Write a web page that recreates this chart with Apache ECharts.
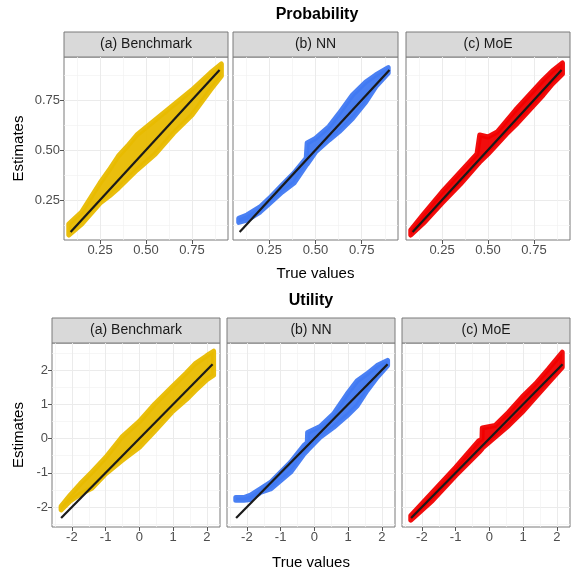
<!DOCTYPE html>
<html>
<head>
<meta charset="utf-8">
<script src="https://cdn.jsdelivr.net/npm/echarts@6/dist/echarts.min.js"></script>
<style>
html, body { margin: 0; padding: 0; background: #fff; }
#chart { width: 574px; height: 571px; }
</style>
</head>
<body>
<div id="chart"></div>
<script>
var myChart = echarts.init(document.getElementById('chart'));

// facet labels, row titles, colours
var panelNames = ['(a) Benchmark', '(b) NN', '(c) MoE'];
var rowTitles = ['Probability', 'Utility'];
var bandColors = ['#E8BB00', '#4079F2', '#F00000'];

// axis ticks
var probTicks = [0.25, 0.5, 0.75];
var probMinor = [0.125, 0.375, 0.625, 0.875];
var utilTicks = [-2, -1, 0, 1, 2];
var utilMinor = [-2.5, -1.5, -0.5, 0.5, 1.5, 2.5];
var probXRange = [0.054, 0.946];
var probYRange = [0.05, 0.965];
var utilXRange = [-2.59, 2.39];
var utilYRange = [-2.58, 2.79];

// 45 degree reference line (true value range)
var probLine = [0.09, 0.9];
var utilLine = [-2.32, 2.17];

// estimate bands: true value, lowest and highest estimate
var probBenchX  = [0.08, 0.15, 0.25, 0.30, 0.35, 0.40, 0.45, 0.55, 0.65, 0.75, 0.85, 0.91];
var probBenchLo = [0.075, 0.13, 0.235, 0.27, 0.31, 0.355, 0.40, 0.48, 0.585, 0.675, 0.80, 0.87];
var probBenchHi = [0.13, 0.19, 0.335, 0.40, 0.47, 0.52, 0.575, 0.65, 0.725, 0.80, 0.885, 0.93];

var probNNX  = [0.085, 0.13, 0.20, 0.25, 0.32, 0.384, 0.45, 0.455, 0.50, 0.573, 0.628, 0.70, 0.772, 0.826, 0.893];
var probNNLo = [0.138, 0.15, 0.19, 0.232, 0.29, 0.335, 0.425, 0.43, 0.49, 0.55, 0.592, 0.658, 0.74, 0.817, 0.885];
var probNNHi = [0.158, 0.175, 0.215, 0.258, 0.325, 0.385, 0.46, 0.535, 0.558, 0.617, 0.683, 0.775, 0.84, 0.875, 0.912];

var probMoEX  = [0.08, 0.15, 0.25, 0.35, 0.44, 0.455, 0.50, 0.55, 0.60, 0.65, 0.70, 0.75, 0.80, 0.85, 0.905];
var probMoELo = [0.075, 0.135, 0.235, 0.33, 0.425, 0.44, 0.48, 0.53, 0.58, 0.625, 0.675, 0.725, 0.775, 0.83, 0.88];
var probMoEHi = [0.10, 0.18, 0.29, 0.39, 0.48, 0.575, 0.565, 0.59, 0.645, 0.70, 0.75, 0.80, 0.85, 0.895, 0.935];

var utilBenchX  = [-2.32, -2.05, -1.75, -1.41, -1.0, -0.52, 0.0, 0.46, 0.96, 1.4, 1.65, 2.0, 2.2];
var utilBenchLo = [-2.08, -1.82, -1.62, -1.45, -1.03, -0.64, -0.25, 0.23, 0.77, 1.15, 1.40, 1.72, 1.85];
var utilBenchHi = [-1.98, -1.65, -1.32, -0.98, -0.55, 0.04, 0.50, 1.01, 1.50, 1.92, 2.18, 2.42, 2.55];

var utilNNX  = [-2.33, -2.09, -1.89, -1.6, -1.3, -0.705, -0.31, -0.21, -0.2, 0.17, 0.57, 0.97, 1.27, 1.56, 1.86, 2.17];
var utilNNLo = [-1.80, -1.80, -1.78, -1.57, -1.47, -0.98, -0.45, -0.35, -0.33, 0.04, 0.33, 0.67, 0.96, 1.40, 1.79, 2.13];
var utilNNHi = [-1.72, -1.72, -1.65, -1.47, -1.28, -0.69, -0.20, -0.12, 0.18, 0.35, 0.72, 1.30, 1.69, 1.89, 2.13, 2.28];

var utilMoEX  = [-2.33, -1.69, -1.0, -0.31, -0.22, -0.21, 0.17, 0.57, 0.97, 1.37, 1.76, 2.16];
var utilMoELo = [-2.38, -1.81, -1.08, -0.40, -0.30, -0.28, 0.04, 0.38, 0.77, 1.21, 1.64, 2.08];
var utilMoEHi = [-2.25, -1.57, -0.84, -0.06, -0.02, 0.31, 0.38, 0.77, 1.21, 1.60, 2.04, 2.52];

var bands = [
    [probBenchX, probBenchLo, probBenchHi],
    [probNNX, probNNLo, probNNHi],
    [probMoEX, probMoELo, probMoEHi],
    [utilBenchX, utilBenchLo, utilBenchHi],
    [utilNNX, utilNNLo, utilNNHi],
    [utilMoEX, utilMoELo, utilMoEHi]
];

// panel boxes in pixels
var rowLayout = [
    { top: 57, height: 183, lefts: [64, 233, 406], widths: [164, 165, 164] },
    { top: 343, height: 184, lefts: [52, 227, 402], widths: [168, 168, 168] }
];

var font = '"Liberation Sans", Arial, sans-serif';
var grids = [], xAxes = [], yAxes = [], series = [], graphics = [];

function bandRenderer(band, color) {
    return function (params, api) {
        if (params.dataIndex !== 0) return null;
        var pts = [];
        for (var k = 0; k < band[0].length; k++) pts.push(api.coord([band[0][k], band[2][k]]));
        for (var k = band[0].length - 1; k >= 0; k--) pts.push(api.coord([band[0][k], band[1][k]]));
        return {
            type: 'polygon',
            shape: { points: pts },
            style: { fill: color, stroke: color, lineWidth: 5, lineJoin: 'round', opacity: 0.95 }
        };
    };
}

function axisPair(i, range, ticks, minor, fmt, side, showLabels) {
    var major = {
        type: 'value', gridIndex: i, min: range[0], max: range[1], position: side[0],
        axisLine: { show: false, onZero: false },
        axisTick: { show: showLabels, customValues: ticks, length: 4, lineStyle: { color: '#555' } },
        axisLabel: { show: showLabels, customValues: ticks, formatter: fmt, color: '#4d4d4d', fontSize: 13, fontFamily: font, margin: 4 },
        splitLine: { show: true, lineStyle: { color: '#ebebeb', width: 1 } }
    };
    var minorAx = {
        type: 'value', gridIndex: i, min: range[0], max: range[1], position: side[1],
        axisLine: { show: false, onZero: false },
        axisTick: { show: false, customValues: minor },
        axisLabel: { show: false },
        splitLine: { show: true, lineStyle: { color: '#f2f2f2', width: 0.7 } }
    };
    return [major, minorAx];
}

for (var i = 0; i < 6; i++) {
    var row = i < 3 ? 0 : 1, col = i % 3;
    var L = rowLayout[row];
    var ticks = row === 0 ? probTicks : utilTicks;
    var minor = row === 0 ? probMinor : utilMinor;
    var xr = row === 0 ? probXRange : utilXRange;
    var yr = row === 0 ? probYRange : utilYRange;
    var ln = row === 0 ? probLine : utilLine;
    var fmt = row === 0 ? function (v) { return v.toFixed(2); } : function (v) { return String(v); };

    grids.push({
        left: L.lefts[col], top: L.top, width: L.widths[col], height: L.height,
        show: true, borderColor: '#7a7a7a', borderWidth: 1, backgroundColor: '#fff'
    });

    var xs = axisPair(i, xr, ticks, minor, fmt, ['bottom', 'top'], true);
    var ys = axisPair(i, yr, ticks, minor, fmt, ['left', 'right'], col === 0);

    if (col === 0) {
        ys[0].name = 'Estimates';
        ys[0].nameLocation = 'middle';
        ys[0].nameRotate = 90;
        ys[0].nameGap = row === 0 ? 38 : 26;
        ys[0].nameTextStyle = { fontSize: 15, color: '#000', fontFamily: font };
    }
    if (col === 1) {
        xs[0].name = 'True values';
        xs[0].nameLocation = 'middle';
        xs[0].nameGap = row === 0 ? 26 : 28;
        xs[0].nameTextStyle = { fontSize: 15, color: '#000', fontFamily: font };
    }
    xAxes.push(xs[0], xs[1]);
    yAxes.push(ys[0], ys[1]);

    var b = bands[i];
    series.push({
        type: 'custom',
        xAxisIndex: 2 * i, yAxisIndex: 2 * i,
        data: b[0].map(function (x, k) { return [x, b[1][k], b[2][k]]; }),
        encode: { x: 0, y: [1, 2] },
        renderItem: bandRenderer(b, bandColors[col]),
        silent: true, z: 2
    });
    series.push({
        type: 'line',
        xAxisIndex: 2 * i, yAxisIndex: 2 * i,
        data: [[ln[0], ln[0]], [ln[1], ln[1]]],
        symbol: 'none', silent: true, z: 3,
        lineStyle: { color: '#1a1a1a', width: 2.2 }
    });

    // facet strip
    graphics.push({
        type: 'rect', silent: true,
        shape: { x: L.lefts[col], y: L.top - 25, width: L.widths[col], height: 25 },
        style: { fill: '#d9d9d9', stroke: '#7a7a7a', lineWidth: 1 }
    });
    graphics.push({
        type: 'text', silent: true,
        x: L.lefts[col] + L.widths[col] / 2, y: L.top - 12.5,
        style: { text: panelNames[col], align: 'center', verticalAlign: 'middle', fill: '#1a1a1a', font: '14px ' + font }
    });
}

graphics.push({
    type: 'text', silent: true, x: 317, y: 15,
    style: { text: rowTitles[0], align: 'center', verticalAlign: 'middle', fill: '#000', font: 'bold 16px ' + font }
});
graphics.push({
    type: 'text', silent: true, x: 311, y: 301,
    style: { text: rowTitles[1], align: 'center', verticalAlign: 'middle', fill: '#000', font: 'bold 16px ' + font }
});

myChart.setOption({
    backgroundColor: '#fff',
    animation: false,
    grid: grids,
    xAxis: xAxes,
    yAxis: yAxes,
    series: series,
    graphic: graphics
});
</script>
</body>
</html>
